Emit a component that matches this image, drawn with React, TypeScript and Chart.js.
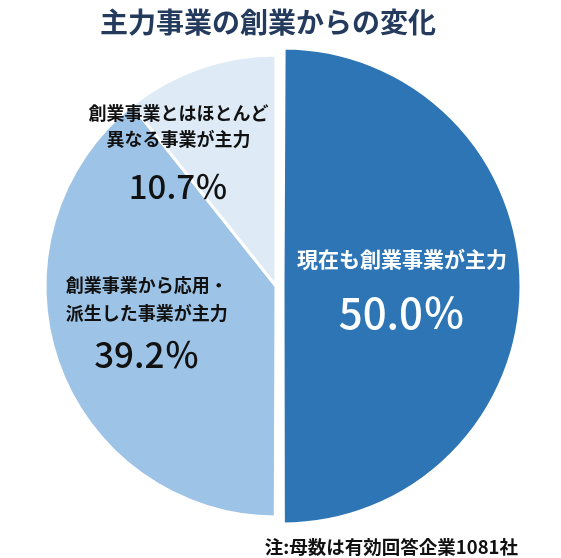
import React, { useEffect, useRef } from "react";
import { Chart, registerables } from "chart.js";

Chart.register(...registerables);

const TITLE = "主力事業の創業からの変化";
const NOTE = "注:母数は有効回答企業1081社";
const categories = [
  "現在も創業事業が主力",
  "創業事業から応用・派生した事業が主力",
  "創業事業とはほとんど異なる事業が主力",
];
const values = [50.0, 39.2, 10.7];
const labelLines = [
  ["現在も創業事業が主力"],
  ["創業事業から応用・", "派生した事業が主力"],
  ["創業事業とはほとんど", "異なる事業が主力"],
];
const colors = ["#2E75B6", "#9DC3E6", "#DEEBF7"];

const JP = '"Noto Sans CJK JP", "Noto Sans", sans-serif';

// label block layout per slice (styling only)
const LABEL_LAYOUT = [
  { frac: 0.545, angle: 0, color: "#ffffff", textFont: `bold 21px ${JP}`, pctFont: `500 42px ${JP}`, lineDy: [-27], pctDy: 27 },
  { frac: 0.578, angle: 4.6, color: "#111111", textFont: `bold 18px ${JP}`, pctFont: `500 35px ${JP}`, lineDy: [-34, -6], pctDy: 35 },
  { frac: 0.726, angle: -16.3, color: "#111111", textFont: `bold 18px ${JP}`, pctFont: `500 33px ${JP}`, lineDy: [-36, -10], pctDy: 37 },
];

const labelPlugin = {
  id: "sliceLabels",
  afterDatasetsDraw(chart: any) {
    const ctx = chart.ctx;
    const meta = chart.getDatasetMeta(0);
    meta.data.forEach((arc: any, i: number) => {
      const p = arc.getProps(["x", "y", "startAngle", "endAngle", "outerRadius"], true);
      const cfg = LABEL_LAYOUT[i];
      const mid = (p.startAngle + p.endAngle) / 2 + (cfg.angle * Math.PI) / 180;
      const ax = p.x + Math.cos(mid) * p.outerRadius * cfg.frac;
      const ay = p.y + Math.sin(mid) * p.outerRadius * cfg.frac;
      ctx.save();
      ctx.fillStyle = cfg.color;
      ctx.textAlign = "center";
      ctx.textBaseline = "middle";
      ctx.font = cfg.textFont;
      labelLines[i].forEach((t, k) => ctx.fillText(t, ax, ay + cfg.lineDy[k]));
      ctx.font = cfg.pctFont;
      ctx.fillText(values[i].toFixed(1) + "％", ax, ay + cfg.pctDy);
      ctx.restore();
    });
  },
  afterDraw(chart: any) {
    const ctx = chart.ctx;
    ctx.save();
    ctx.textBaseline = "middle";
    ctx.fillStyle = "#243B5E";
    ctx.font = `bold 28px ${JP}`;
    ctx.textAlign = "center";
    ctx.fillText(TITLE, 268, 22);
    ctx.fillStyle = "#111111";
    ctx.font = `bold 18.5px ${JP}`;
    ctx.textAlign = "right";
    ctx.fillText(NOTE, 518, 547);
    ctx.restore();
  },
};

export default function App() {
  const ref = useRef<HTMLCanvasElement>(null);
  useEffect(() => {
    if (!ref.current) return;
    const chart = new Chart(ref.current, {
      type: "pie",
      data: {
        labels: categories,
        datasets: [
          {
            data: values,
            backgroundColor: colors,
            borderColor: "#ffffff",
            borderWidth: 3,
            offset: [28, 0, 0],
          },
        ],
      },
      options: {
        responsive: false,
        animation: false,
        radius: 231,
        layout: { padding: { left: 20, right: 29, top: 40, bottom: 26 } },
        plugins: {
          legend: { display: false },
          tooltip: { enabled: false },
          title: { display: false },
        },
      } as any,
      plugins: [labelPlugin],
    });
    return () => chart.destroy();
  }, []);
  return (
    <div style={{ position: "fixed", left: 0, top: 0, width: 561, height: 558, background: "#fff" }}>
      <canvas ref={ref} width={561} height={558} style={{ display: "block" }} />
    </div>
  );
}
